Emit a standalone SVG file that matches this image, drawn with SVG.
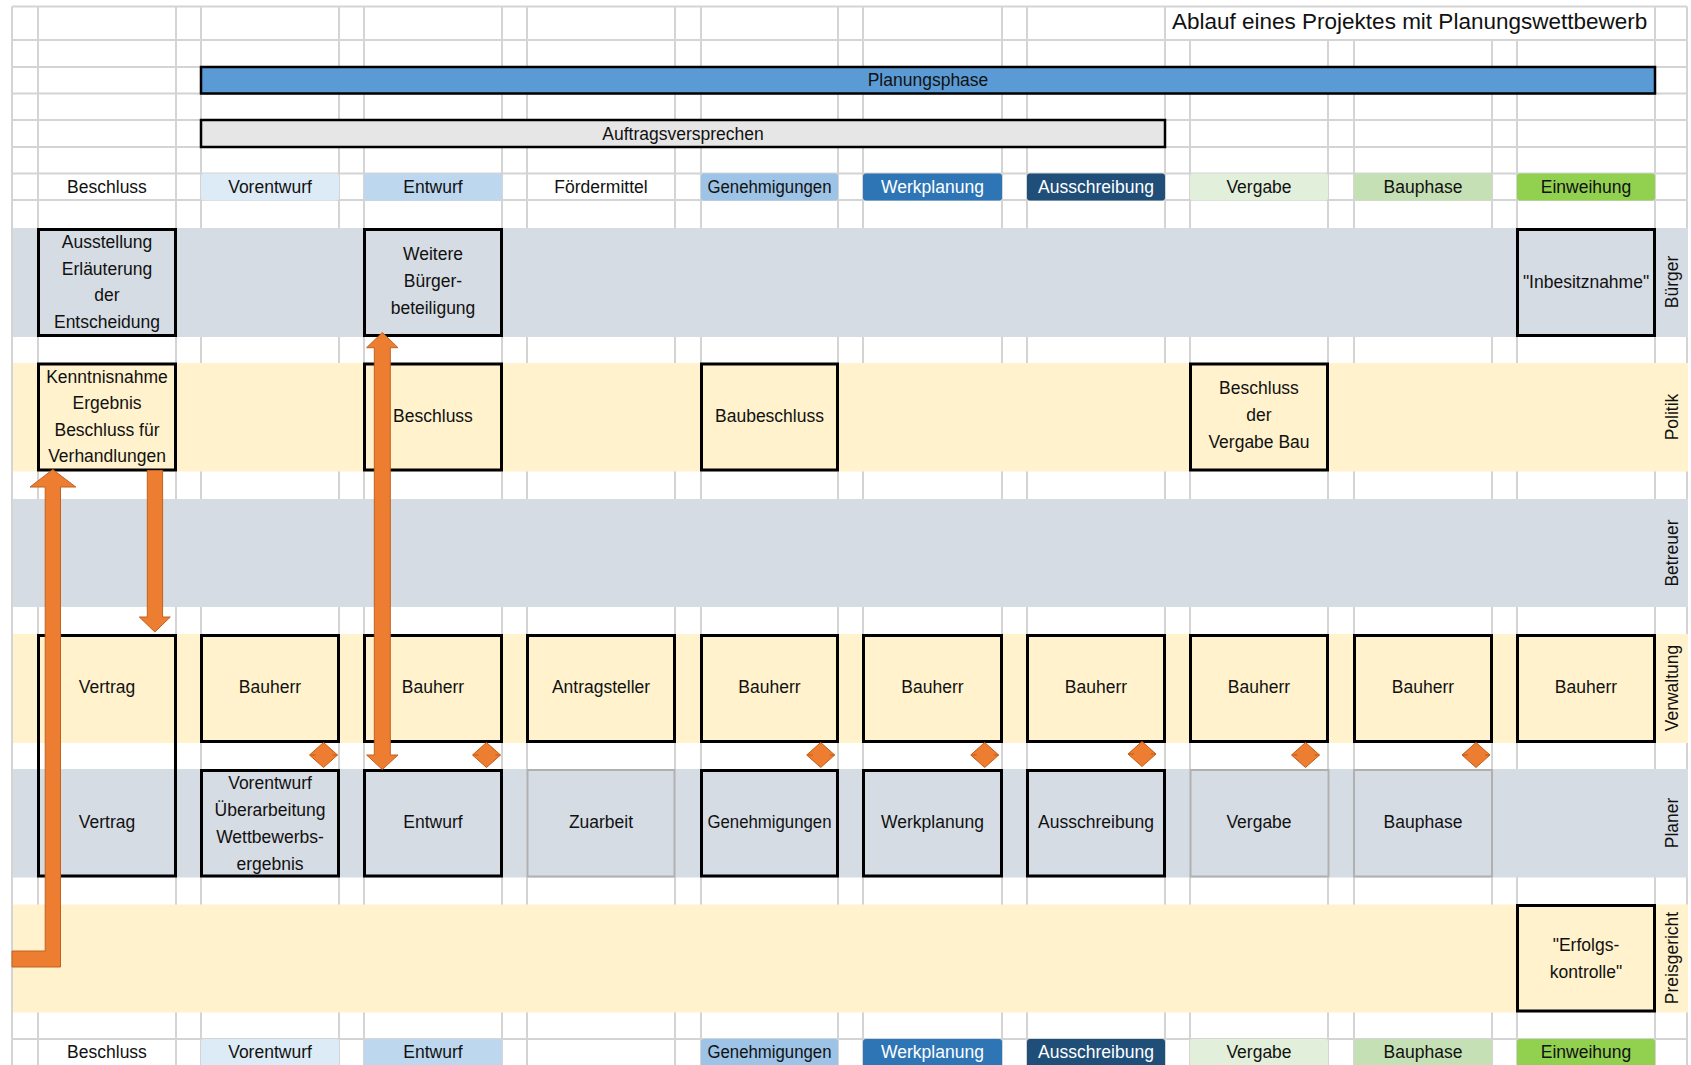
<svg xmlns="http://www.w3.org/2000/svg" width="1691" height="1065" viewBox="0 0 1691 1065">
<defs>
<style>
.grid{stroke:#d4d4d4;stroke-width:2;fill:none}
.lb{fill:#d6dce4}
.lc{fill:#fff2cc}
.box{fill:none;stroke:#000;stroke-width:3}
.boxg{fill:none;stroke:#b0b0b0;stroke-width:2}
.t{font-family:"Liberation Sans",Arial,sans-serif;font-size:17.5px;fill:#111;text-anchor:middle}
.w{fill:#fff}
.arrow{fill:#ed7d31;stroke:#c0621f;stroke-width:1}
.dia{fill:#ed7d31;stroke:#c55a11;stroke-width:1}
.tick{stroke:#c55a11;stroke-width:1.2;stroke-dasharray:5 17 5}
</style>
</defs>
<rect x="0" y="0" width="1691" height="1065" fill="#fff"/>

<g id="grid">
<path class="grid" d="M12 6.5V1065M38 6.5V1065M176 6.5V1065M201 6.5V1065M339 6.5V1065M364 6.5V1065M502 6.5V1065M527 6.5V1065M675 6.5V1065M701 6.5V1065M838 6.5V1065M863 6.5V1065M1002 6.5V1065M1027 6.5V1065M1165 6.5V1065M1190 40V1065M1328 40V1065M1354 40V1065M1492 40V1065M1517 40V1065M1655 6.5V1065M1687 6.5V1065"/>
<path class="grid" d="M12 6.5H1687M12 40H1687M12 67H1687M12 93.5H1687M12 120H1687M12 147H1687M12 173.5H1687M12 200H1687M12 1039H1687"/>
</g>

<g id="title">
<text x="1172" y="29" style="font-family:'Liberation Sans',Arial,sans-serif;font-size:22.5px;fill:#111">Ablauf eines Projektes mit Planungswettbewerb</text>
</g>

<g id="bar-planungsphase">
<rect x="201" y="67" width="1454" height="26.5" fill="#5b9bd5" stroke="#000" stroke-width="2.5"/>
<text class="t" x="928" y="86">Planungsphase</text>
</g>
<g id="bar-auftragsversprechen">
<rect x="201" y="120" width="964" height="27" fill="#e7e6e6" stroke="#000" stroke-width="2.5"/>
<text class="t" x="683" y="139.5">Auftragsversprechen</text>
</g>

<g id="phase-labels-top">
<text class="t" x="107" y="193">Beschluss</text>
<rect x="201" y="173.5" width="138" height="27" rx="3" fill="#ddebf7"/><text class="t" x="270" y="193">Vorentwurf</text>
<rect x="364" y="173.5" width="138" height="27" rx="3" fill="#bdd7ee"/><text class="t" x="433" y="193">Entwurf</text>
<text class="t" x="601" y="193">Fördermittel</text>
<rect x="701" y="173.5" width="137" height="27" rx="3" fill="#9dc3e6"/><text class="t" x="769.5" y="193" textLength="124" lengthAdjust="spacingAndGlyphs">Genehmigungen</text>
<rect x="863" y="173.5" width="139" height="27" rx="3" fill="#2e75b6"/><text class="t w" x="932.5" y="193">Werkplanung</text>
<rect x="1027" y="173.5" width="138" height="27" rx="3" fill="#1f4e79"/><text class="t w" x="1096" y="193">Ausschreibung</text>
<rect x="1190" y="173.5" width="138" height="27" rx="3" fill="#e2efda"/><text class="t" x="1259" y="193">Vergabe</text>
<rect x="1354" y="173.5" width="138" height="27" rx="3" fill="#c5e0b4"/><text class="t" x="1423" y="193">Bauphase</text>
<rect x="1517" y="173.5" width="138" height="27" rx="3" fill="#92d050"/><text class="t" x="1586" y="193">Einweihung</text>
</g>

<g id="lanes">
<rect class="lb" x="13" y="228" width="1675" height="109"/>
<rect class="lc" x="13" y="363" width="1675" height="108.5"/>
<rect class="lb" x="13" y="499" width="1675" height="108"/>
<rect class="lc" x="13" y="634" width="1675" height="109"/>
<rect class="lb" x="13" y="769" width="1675" height="108.5"/>
<rect class="lc" x="13" y="904.5" width="1675" height="108"/>
<g class="t">
<text transform="translate(1672,282) rotate(-90)" y="6">Bürger</text>
<text transform="translate(1672,417) rotate(-90)" y="6">Politik</text>
<text transform="translate(1672,553) rotate(-90)" y="6">Betreuer</text>
<text transform="translate(1672,688) rotate(-90)" y="6">Verwaltung</text>
<text transform="translate(1672,823) rotate(-90)" y="6">Planer</text>
<text transform="translate(1672,958) rotate(-90)" y="6">Preisgericht</text>
</g>
</g>

<g id="phase-labels-bottom">
<text class="t" x="107" y="1058">Beschluss</text>
<rect x="201" y="1039" width="138" height="30" rx="3" fill="#ddebf7"/><text class="t" x="270" y="1058">Vorentwurf</text>
<rect x="364" y="1039" width="138" height="30" rx="3" fill="#bdd7ee"/><text class="t" x="433" y="1058">Entwurf</text>
<rect x="701" y="1039" width="137" height="30" rx="3" fill="#9dc3e6"/><text class="t" x="769.5" y="1058" textLength="124" lengthAdjust="spacingAndGlyphs">Genehmigungen</text>
<rect x="863" y="1039" width="139" height="30" rx="3" fill="#2e75b6"/><text class="t w" x="932.5" y="1058">Werkplanung</text>
<rect x="1027" y="1039" width="138" height="30" rx="3" fill="#1f4e79"/><text class="t w" x="1096" y="1058">Ausschreibung</text>
<rect x="1190" y="1039" width="138" height="30" rx="3" fill="#e2efda"/><text class="t" x="1259" y="1058">Vergabe</text>
<rect x="1354" y="1039" width="138" height="30" rx="3" fill="#c5e0b4"/><text class="t" x="1423" y="1058">Bauphase</text>
<rect x="1517" y="1039" width="138" height="30" rx="3" fill="#92d050"/><text class="t" x="1586" y="1058">Einweihung</text>
</g>

<g id="n-buerger-ausstellung"><rect class="box" x="38.5" y="229.5" width="137" height="106"/>
<text class="t" x="107" y="248"><tspan x="107">Ausstellung</tspan><tspan x="107" dy="26.5">Erläuterung</tspan><tspan x="107" dy="26.5">der</tspan><tspan x="107" dy="26.5">Entscheidung</tspan></text></g>
<g id="n-buerger-weitere"><rect class="box" x="364.5" y="229.5" width="137" height="106"/>
<text class="t" x="433" y="259.5"><tspan x="433">Weitere</tspan><tspan x="433" dy="27">Bürger-</tspan><tspan x="433" dy="27">beteiligung</tspan></text></g>
<g id="n-buerger-inbesitznahme"><rect class="box" x="1517.5" y="229.5" width="137" height="106"/>
<text class="t" x="1586" y="287.5">"Inbesitznahme"</text></g>

<g id="n-politik-kenntnisnahme"><rect class="box" x="38.5" y="364" width="137" height="106"/>
<text class="t" x="107" y="382.5"><tspan x="107">Kenntnisnahme</tspan><tspan x="107" dy="26.6">Ergebnis</tspan><tspan x="107" dy="26.6">Beschluss für</tspan><tspan x="107" dy="26.6">Verhandlungen</tspan></text></g>
<g id="n-politik-beschluss"><rect class="box" x="364.5" y="364" width="137" height="106"/>
<text class="t" x="433" y="422">Beschluss</text></g>
<g id="n-politik-baubeschluss"><rect class="box" x="701.5" y="364" width="136" height="106"/>
<text class="t" x="769.5" y="422">Baubeschluss</text></g>
<g id="n-politik-vergabe"><rect class="box" x="1190.5" y="364" width="137" height="106"/>
<text class="t" x="1259" y="394"><tspan x="1259">Beschluss</tspan><tspan x="1259" dy="27">der</tspan><tspan x="1259" dy="27">Vergabe Bau</tspan></text></g>

<g id="n-vertrag"><rect class="box" x="38.5" y="635.5" width="137" height="240.5"/>
<text class="t" x="107" y="693">Vertrag</text><text class="t" x="107" y="828">Vertrag</text></g>

<g id="n-verw-1"><rect class="box" x="201.5" y="635.5" width="137" height="106"/><text class="t" x="270" y="693">Bauherr</text></g>
<g id="n-verw-2"><rect class="box" x="364.5" y="635.5" width="137" height="106"/><text class="t" x="433" y="693">Bauherr</text></g>
<g id="n-verw-3"><rect class="box" x="527.5" y="635.5" width="147" height="106"/><text class="t" x="601" y="693">Antragsteller</text></g>
<g id="n-verw-4"><rect class="box" x="701.5" y="635.5" width="136" height="106"/><text class="t" x="769.5" y="693">Bauherr</text></g>
<g id="n-verw-5"><rect class="box" x="863.5" y="635.5" width="138" height="106"/><text class="t" x="932.5" y="693">Bauherr</text></g>
<g id="n-verw-6"><rect class="box" x="1027.5" y="635.5" width="137" height="106"/><text class="t" x="1096" y="693">Bauherr</text></g>
<g id="n-verw-7"><rect class="box" x="1190.5" y="635.5" width="137" height="106"/><text class="t" x="1259" y="693">Bauherr</text></g>
<g id="n-verw-8"><rect class="box" x="1354.5" y="635.5" width="137" height="106"/><text class="t" x="1423" y="693">Bauherr</text></g>
<g id="n-verw-9"><rect class="box" x="1517.5" y="635.5" width="137" height="106"/><text class="t" x="1586" y="693">Bauherr</text></g>

<g id="n-plan-1"><rect class="box" x="201.5" y="770.5" width="137" height="105.5"/>
<text class="t" x="270" y="788.5"><tspan x="270">Vorentwurf</tspan><tspan x="270" dy="27">Überarbeitung</tspan><tspan x="270" dy="27">Wettbewerbs-</tspan><tspan x="270" dy="27">ergebnis</tspan></text></g>
<g id="n-plan-2"><rect class="box" x="364.5" y="770.5" width="137" height="105.5"/><text class="t" x="433" y="828">Entwurf</text></g>
<g id="n-plan-3"><rect class="boxg" x="527.5" y="770" width="147" height="106.5"/><text class="t" x="601" y="828">Zuarbeit</text></g>
<g id="n-plan-4"><rect class="box" x="701.5" y="770.5" width="136" height="105.5"/><text class="t" x="769.5" y="828" textLength="124" lengthAdjust="spacingAndGlyphs">Genehmigungen</text></g>
<g id="n-plan-5"><rect class="box" x="863.5" y="770.5" width="138" height="105.5"/><text class="t" x="932.5" y="828">Werkplanung</text></g>
<g id="n-plan-6"><rect class="box" x="1027.5" y="770.5" width="137" height="105.5"/><text class="t" x="1096" y="828">Ausschreibung</text></g>
<g id="n-plan-7"><rect class="boxg" x="1190.5" y="770" width="138" height="106.5"/><text class="t" x="1259" y="828">Vergabe</text></g>
<g id="n-plan-8"><rect class="boxg" x="1354" y="770" width="138" height="106.5"/><text class="t" x="1423" y="828">Bauphase</text></g>

<g id="n-preis-erfolg"><rect class="box" x="1517.5" y="905.5" width="137" height="105.5"/>
<text class="t" x="1586" y="950.5"><tspan x="1586">"Erfolgs-</tspan><tspan x="1586" dy="27">kontrolle"</tspan></text></g>

<g id="connectors">
<path class="arrow" d="M12 951H45.2V487H30L52.8 469.5L75.8 487H60.5V967H12Z"/>
<path class="arrow" d="M147.3 470.5H162.6V617H170.3L154.9 632L139.3 617H147.3Z"/>
<path class="arrow" d="M382.3 332.5L398 347.7H390.3V755H398L382.3 769.5L366.6 755H374.3V347.7H366.6Z"/>
<g id="diamonds">
<g transform="translate(323.5,755)"><path class="dia" d="M-14 0L0 -12.5L14 0L0 12.5Z"/><path class="tick" d="M-13 0H14"/></g>
<g transform="translate(486.5,755)"><path class="dia" d="M-14 0L0 -12.5L14 0L0 12.5Z"/><path class="tick" d="M-13 0H14"/></g>
<g transform="translate(820.7,755)"><path class="dia" d="M-14 0L0 -12.5L14 0L0 12.5Z"/><path class="tick" d="M-13 0H14"/></g>
<g transform="translate(984.7,755)"><path class="dia" d="M-14 0L0 -12.5L14 0L0 12.5Z"/><path class="tick" d="M-13 0H14"/></g>
<g transform="translate(1142,754)"><path class="dia" d="M-14 0L0 -12.5L14 0L0 12.5Z"/><path class="tick" d="M-13 0H14"/></g>
<g transform="translate(1305.5,755)"><path class="dia" d="M-14 0L0 -12.5L14 0L0 12.5Z"/><path class="tick" d="M-13 0H14"/></g>
<g transform="translate(1476,755)"><path class="dia" d="M-14 0L0 -12.5L14 0L0 12.5Z"/><path class="tick" d="M-13 0H14"/></g>
</g>
</g>
</svg>
